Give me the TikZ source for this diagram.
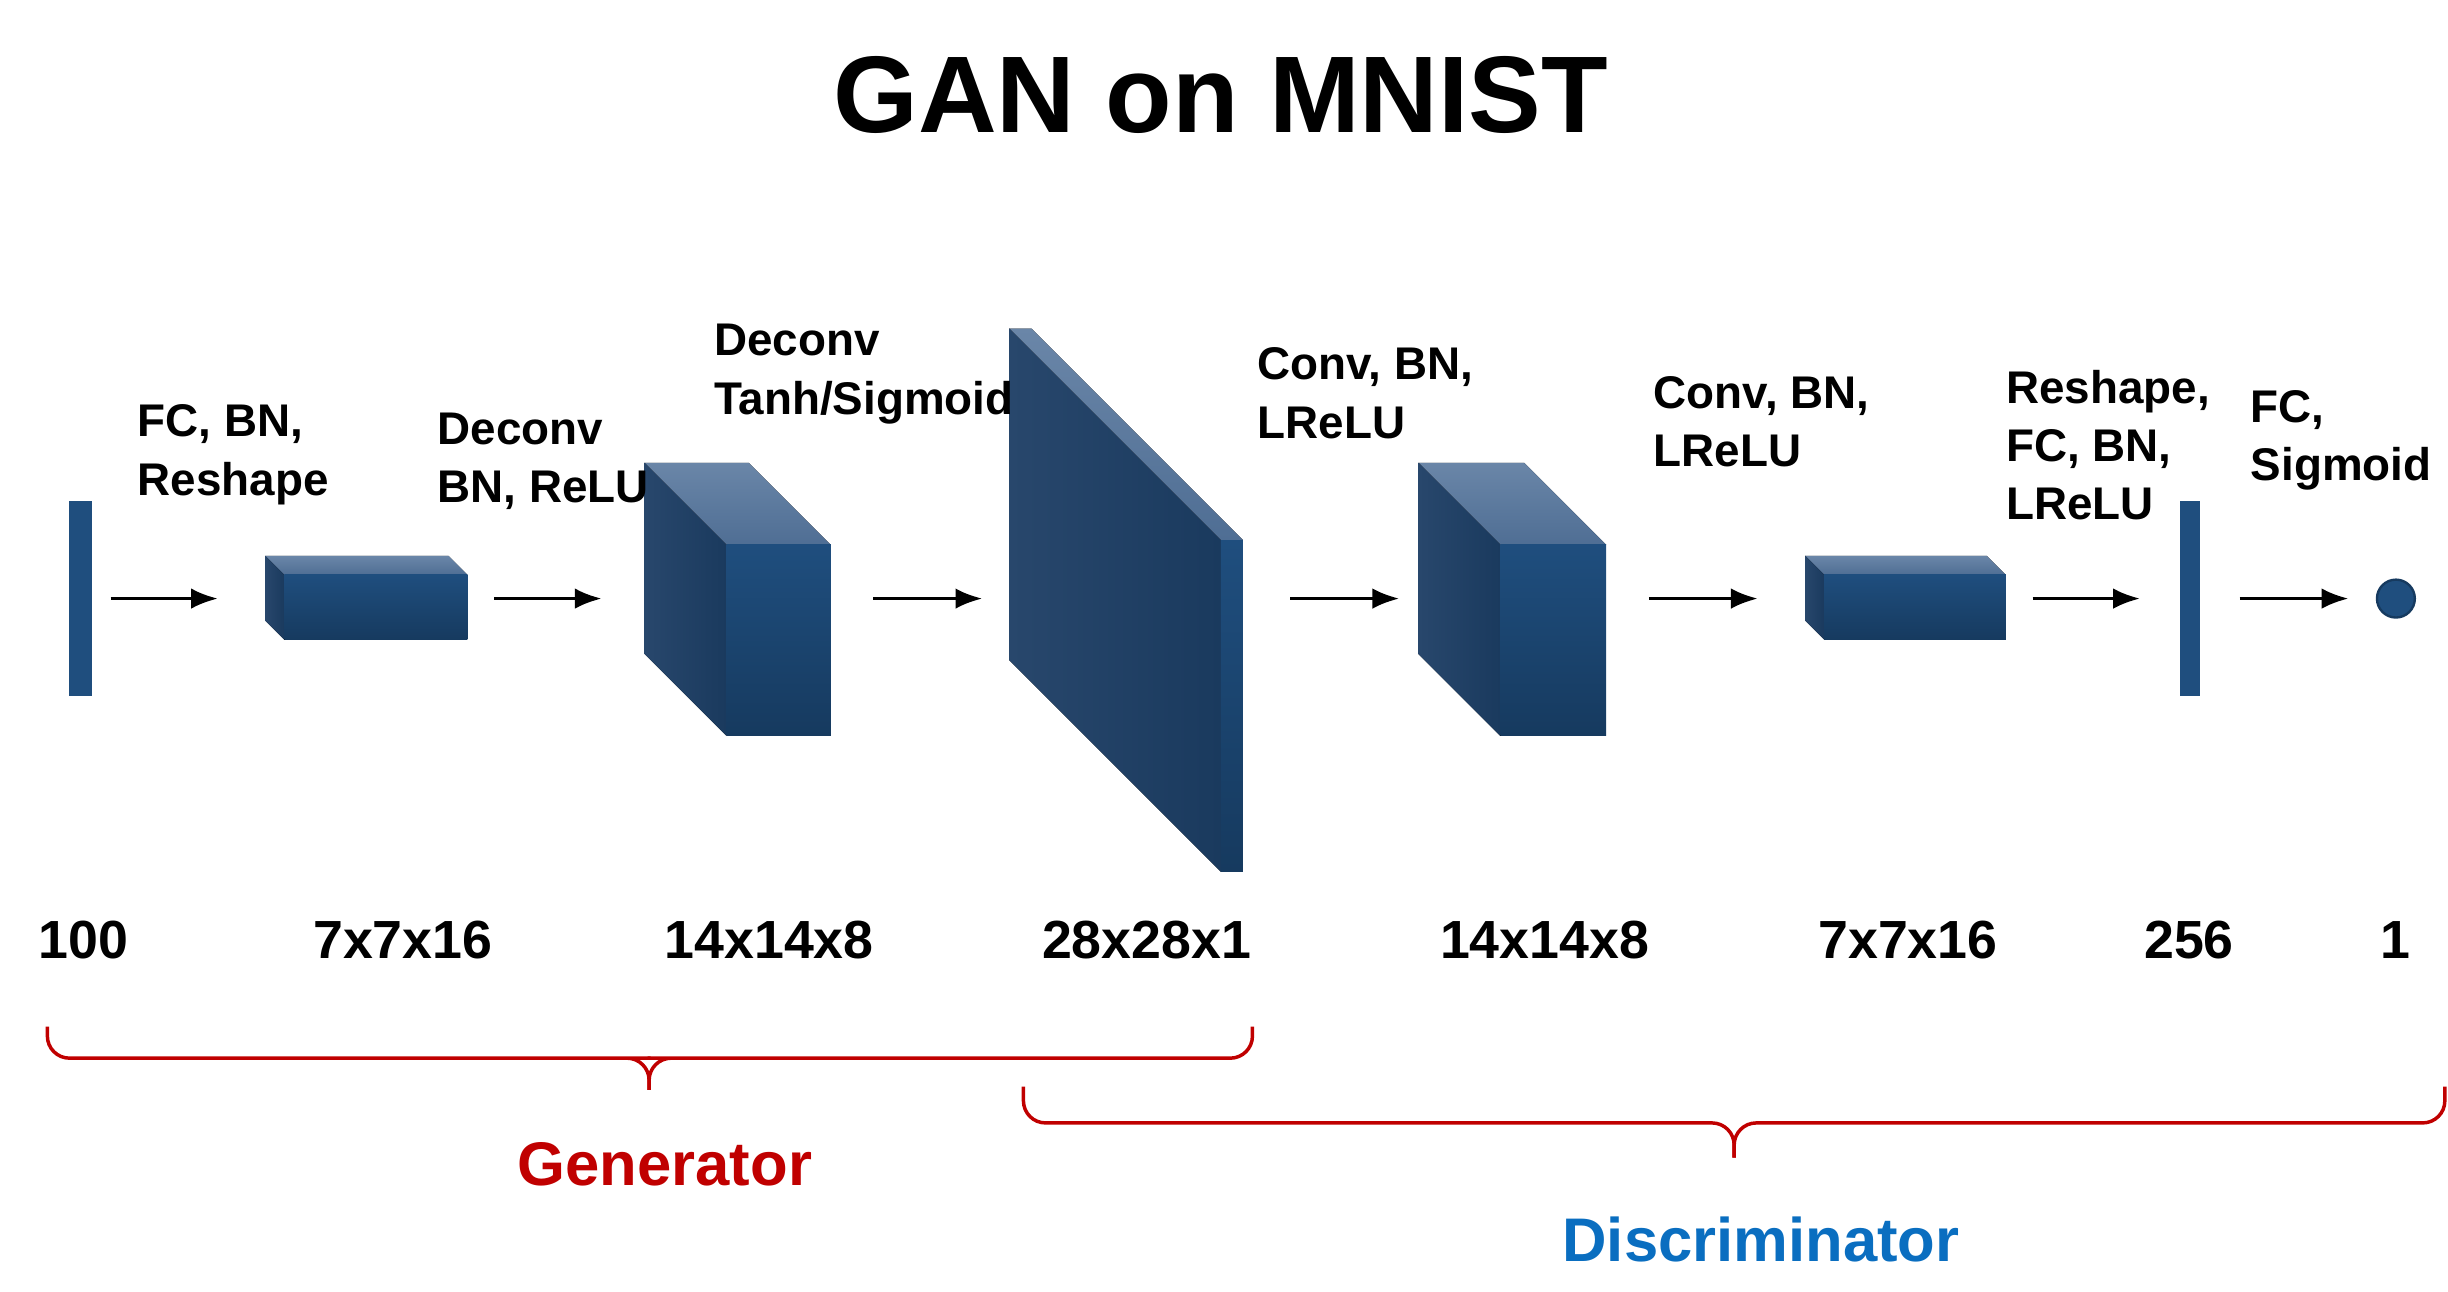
\documentclass[tikz,border=0pt]{standalone}
\usepackage{fontspec}
\setmainfont{Liberation Sans}
\usetikzlibrary{arrows.meta}
\definecolor{fr}{HTML}{1F4E7E}
\definecolor{frd}{HTML}{163A5F}
\definecolor{sd}{HTML}{1A3A5E}
\definecolor{sdd}{HTML}{28476C}
\definecolor{tp}{HTML}{6A86A8}
\definecolor{tpd}{HTML}{4F6E94}
\definecolor{gred}{HTML}{C00000}
\definecolor{dblue}{HTML}{0A6EC0}
\tikzset{
  lbl/.style={font=\fontsize{29}{37}\selectfont\bfseries, anchor=north west, align=left, inner sep=0pt},
  dim/.style={font=\fontsize{34}{40}\selectfont\bfseries, inner sep=0pt},
  arr/.style={line width=2.2pt, -{Latex[length=17pt,width=13pt]}},
  brace/.style={draw=gred, line width=2.2pt, rounded corners=14pt},
}
\newcommand{\cube}[5]{%
  \fill[top color=tp,bottom color=tpd] (#1-#5,#2-#5) -- (#3-#5,#2-#5) -- (#3,#2) -- (#1,#2) -- cycle;
  \fill[left color=sdd,right color=sd] (#1-#5,#2-#5) -- (#1,#2) -- (#1,#4) -- (#1-#5,#4-#5) -- cycle;
  \fill[top color=fr,bottom color=frd] (#1,#2) rectangle (#3,#4);
}
\begin{document}
\begin{tikzpicture}[x=1pt,y=-1pt]
\useasboundingbox (0,0) rectangle (1550,818);
\node[font=\fontsize{69}{74}\selectfont\bfseries] (title) at (773,60) {GAN on MNIST};
\fill[fr] (44,317) rectangle (58,441);
\node (l1) at (51,379) {};
\cube{180}{364}{296}{405}{12}
\node (l2) at (232,379) {};
\cube{460}{345}{526}{466}{52}
\node (l3) at (467,379) {};
\cube{773}{342}{787}{552}{134}
\node (l4) at (710,379) {};
\cube{950}{345}{1017}{466}{52}
\node (l5) at (957,379) {};
\cube{1155}{364}{1270}{405}{12}
\node (l6) at (1207,379) {};
\fill[fr] (1380,317) rectangle (1393,441);
\node (l7) at (1386,379) {};
\node[circle,fill=fr,draw=frd,line width=1.5pt,minimum size=24pt,inner sep=0pt] (l8) at (1517,379) {};
\coordinate (a1s) at (70,379); \coordinate (a1e) at (138,379);
\coordinate (a2s) at (313,379); \coordinate (a2e) at (381,379);
\coordinate (a3s) at (553,379); \coordinate (a3e) at (622,379);
\coordinate (a4s) at (817,379); \coordinate (a4e) at (886,379);
\coordinate (a5s) at (1044,379); \coordinate (a5e) at (1113,379);
\coordinate (a6s) at (1287,379); \coordinate (a6e) at (1355,379);
\coordinate (a7s) at (1418,379); \coordinate (a7e) at (1487,379);
\foreach \i in {1,...,7} \draw[arr] (a\i s) -- (a\i e);
\node[lbl] (t1) at (87,256) {FC, BN,\\Reshape};
\node[lbl] (t2) at (277,261) {Deconv\\BN, ReLU};
\node[lbl] (t3) at (452,205) {Deconv\\Tanh/Sigmoid};
\node[lbl] (t4) at (796,220) {Conv, BN,\\LReLU};
\node[lbl] (t5) at (1047,238) {Conv, BN,\\LReLU};
\node[lbl] (t6) at (1270,234) {Reshape,\\FC, BN,\\LReLU};
\node[lbl] (t7) at (1425,247) {FC,\\Sigmoid};
\node[dim] (d1) at (53,595) {100};
\node[dim] (d2) at (255,595) {7x7x16};
\node[dim] (d3) at (487,595) {14x14x8};
\node[dim] (d4) at (726,595) {28x28x1};
\node[dim] (d5) at (978,595) {14x14x8};
\node[dim] (d6) at (1208,595) {7x7x16};
\node[dim] (d7) at (1386,595) {256};
\node[dim] (d8) at (1517,595) {1};
\draw[brace] (30,650) -- (30,670) -- (398,670) -- (411,670) -- (411,690);
\draw[brace] (793,650) -- (793,670) -- (424,670) -- (411,670) -- (411,690);
\draw[brace] (648,688) -- (648,711) -- (1098,711) -- (1098,733);
\draw[brace] (1548,688) -- (1548,711) -- (1098,711) -- (1098,733);
\node[font=\fontsize{39}{44}\selectfont\bfseries,text=gred] (gen) at (421,737) {Generator};
\node[font=\fontsize{39}{44}\selectfont\bfseries,text=dblue] (dis) at (1115,785) {Discriminator};
\end{tikzpicture}
\end{document}
